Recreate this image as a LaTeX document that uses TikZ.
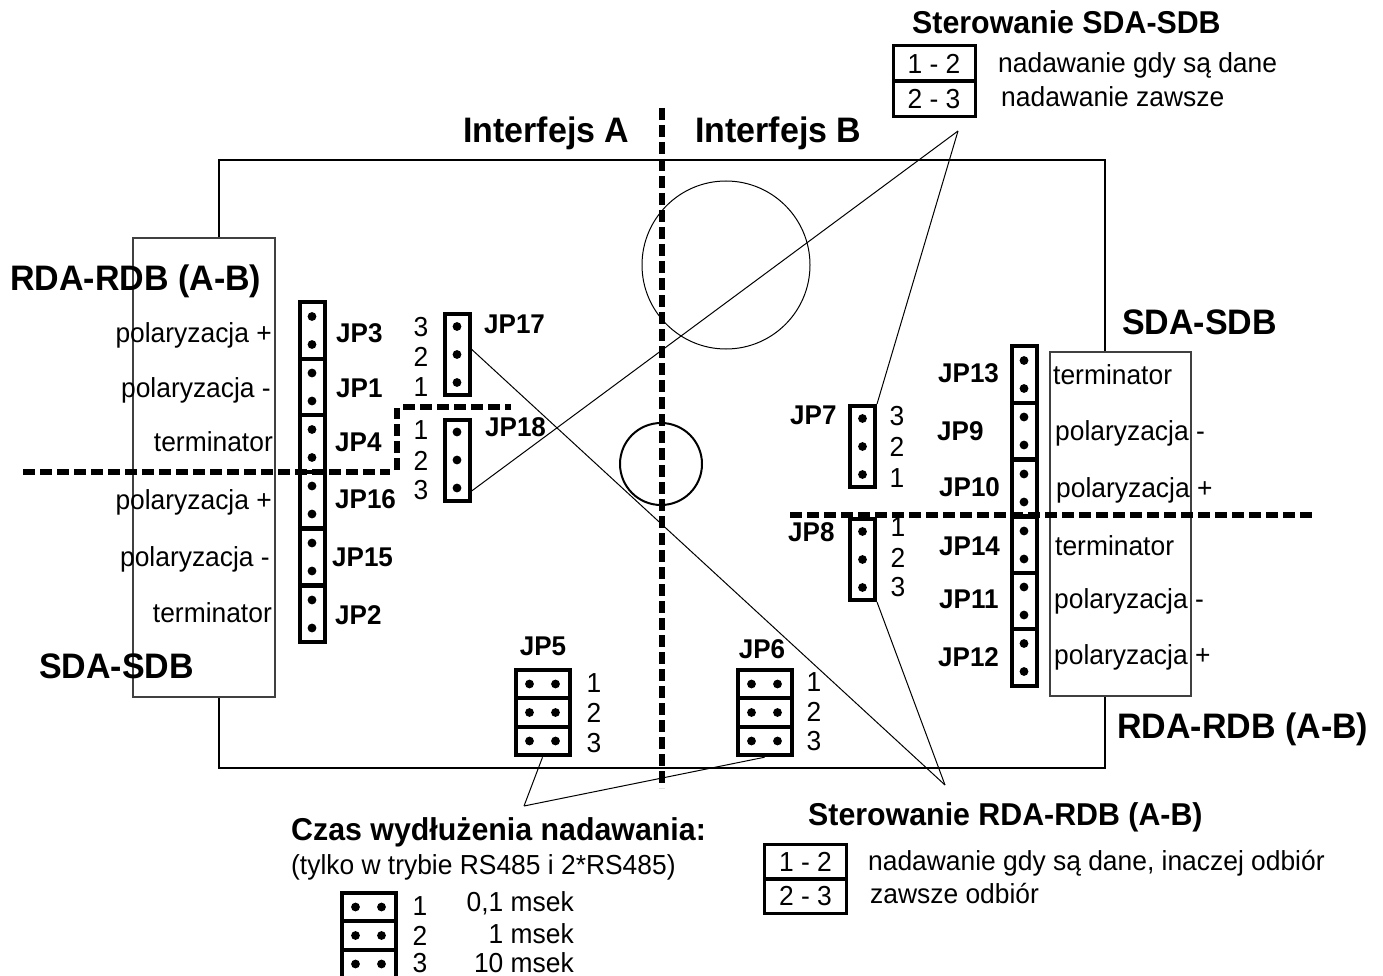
\documentclass[tikz,border=0pt]{standalone}
\usepackage{fontspec}
\setmainfont[FakeStretch=0.96]{Liberation Sans}
\tikzset{
  txt/.style={inner sep=0pt, font=\fontsize{27.5}{27.5}\selectfont},
  jp/.style={inner sep=0pt, font=\fontsize{27.1}{27.1}\selectfont\bfseries},
  head/.style={inner sep=0pt, font=\fontsize{35.4}{35.4}\selectfont\bfseries},
  subhead/.style={inner sep=0pt, font=\fontsize{31.6}{31.6}\selectfont\bfseries},
  cell/.style={draw, fill=white, line width=4pt, inner sep=0pt, minimum width=25pt, minimum height=56.6pt},
  tall/.style={draw, fill=white, line width=4pt, inner sep=0pt, minimum width=25pt, minimum height=81pt},
  wide/.style={draw, fill=white, line width=4pt, inner sep=0pt, minimum width=54pt, minimum height=28.5pt},
  tab/.style={draw, line width=3pt, inner sep=0pt, minimum width=82pt, minimum height=35pt, font=\fontsize{27.5}{27.5}\selectfont},
  conn/.style={draw=black!75, fill=white, line width=1.2pt, inner sep=0pt},
  thin line/.style={line width=1pt},
  divider/.style={line width=5.5pt, dash pattern=on 12pt off 5pt},
}
\begin{document}
\begin{tikzpicture}[x=1pt,y=-1pt]
\useasboundingbox (0,0) rectangle (1383,976);
% board
\node[draw, line width=2pt, inner sep=0pt, minimum width=886pt, minimum height=608pt] (board) at (662,464) {};
\node[draw, circle, line width=1pt, inner sep=0pt, minimum size=168pt] (bigc) at (726,265) {};
\node[draw, circle, line width=2pt, inner sep=0pt, minimum size=82pt] (smallc) at (661,464) {};
% side connectors
\node[conn, minimum width=142pt, minimum height=459pt] (connl) at (204,467.5) {};
\node[conn, minimum width=141pt, minimum height=344pt] (connr) at (1120.5,524) {};
% left column
\node[cell] (jp3) at (312,330.5) {};
\node[cell] (jp1) at (312,387) {};
\node[cell] (jp4) at (312,443.5) {};
\node[cell] (jp16) at (312,500) {};
\node[cell] (jp15) at (312,557) {};
\node[cell] (jp2) at (312,614) {};
% right column
\node[cell] (jp13) at (1024,374.5) {};
\node[cell] (jp9) at (1024,431) {};
\node[cell] (jp10) at (1024,488) {};
\node[cell] (jp14) at (1024,545) {};
\node[cell] (jp11) at (1024,601) {};
\node[cell] (jp12) at (1024,657.5) {};
% three pin jumpers
\node[tall] (jp17) at (457,354.5) {};
\node[tall] (jp18) at (457,460) {};
\node[tall] (jp7) at (862.5,446.5) {};
\node[tall] (jp8) at (862.5,559.5) {};
\node[wide] (jp5a) at (542.5,684) {};
\node[wide] (jp5b) at (542.5,712.5) {};
\node[wide] (jp5c) at (542.5,741) {};
\node[wide] (jp6a) at (764.5,684) {};
\node[wide] (jp6b) at (764.5,712.5) {};
\node[wide] (jp6c) at (764.5,741) {};
\node[wide] (keya) at (368.5,907) {};
\node[wide] (keyb) at (368.5,935.5) {};
\node[wide] (keyc) at (368.5,964) {};
% pins
\foreach \c in {jp3,jp1,jp4,jp16,jp15,jp2,jp13,jp9,jp10,jp14,jp11,jp12} {
  \fill ([yshift=14pt]\c.center) circle (4.4pt);
  \fill ([yshift=-14pt]\c.center) circle (4.4pt);
}
\foreach \c in {jp17,jp18,jp7,jp8} {
  \fill ([yshift=28pt]\c.center) circle (4.4pt);
  \fill (\c.center) circle (4.4pt);
  \fill ([yshift=-28pt]\c.center) circle (4.4pt);
}
\foreach \c in {jp5a,jp5b,jp5c,jp6a,jp6b,jp6c,keya,keyb,keyc} {
  \fill ([xshift=-13pt]\c.center) circle (4.4pt);
  \fill ([xshift=13pt]\c.center) circle (4.4pt);
}
% tables
\node[tab] (sda12) at (934,63.5) {1 - 2};
\node[tab] (sda23) at (934,99) {2 - 3};
\node[tab] (rda12) at (805.5,862) {1 - 2};
\node[tab] (rda23) at (805.5,896) {2 - 3};
% leader lines
\coordinate (apexsda) at (958,131);
\coordinate (apexrda) at (945,785);
\coordinate (apextime) at (524,806);
\draw[thin line] (jp7.north east) -- (apexsda);
\draw[thin line] (jp18.-65) -- (apexsda);
\draw[thin line] (jp17.20) -- (apexrda);
\draw[thin line] (jp8.south east) -- (apexrda);
\draw[thin line] (jp5c.south) -- (apextime);
\draw[thin line] (jp6c.south) -- (apextime);
% dividers
\coordinate (ifa) at (662,108);
\coordinate (ifb) at (662,788);
\coordinate (la) at (23,472);
\coordinate (lb) at (390,472);
\coordinate (lc) at (397,470);
\coordinate (ld) at (397,408);
\coordinate (le) at (403,407);
\coordinate (lf) at (511,407);
\coordinate (ra) at (790,515);
\coordinate (rb) at (1315,515);
\draw[divider] (ifa) -- (ifb);
\draw[divider] (la) -- (lb);
\draw[divider] (lc) -- (ld);
\draw[divider] (le) -- (lf);
\draw[divider] (ra) -- (rb);
% headings
\node[head, anchor=base west] (ifatext) at (463,143) {Interfejs A};
\node[head, anchor=base west] (ifbtext) at (695,143) {Interfejs B};
\node[head, anchor=base west] (rdal) at (10,290) {RDA-RDB (A-B)};
\node[head, anchor=base west] (sdal) at (39,678) {SDA-SDB};
\node[head, anchor=base west] (sdar) at (1122,334) {SDA-SDB};
\node[head, anchor=base west] (rdar) at (1117,738) {RDA-RDB (A-B)};
\node[subhead, anchor=base west] (sterb) at (912,34) {Sterowanie SDA-SDB};
\node[subhead, anchor=base west] (sterc) at (808,825) {Sterowanie RDA-RDB (A-B)};
\node[subhead, anchor=base west] (czas) at (291,840) {Czas wydłużenia nadawania:};
\node[txt, anchor=base west] (tylko) at (291,874) {(tylko w trybie RS485 i 2*RS485)};
\node[txt, anchor=base west] (sda12t) at (998,73) {nadawanie gdy są dane};
\node[txt, anchor=base west] (sda23t) at (1001,107) {nadawanie zawsze};
\node[txt, anchor=base west] (rda12t) at (868,870) {nadawanie gdy są dane, inaczej odbiór};
\node[txt, anchor=base west] (rda23t) at (870,903) {zawsze odbiór};
% left labels
\node[txt, anchor=base east] (ll1) at (272,342) {polaryzacja +};
\node[txt, anchor=base east] (ll2) at (271,397) {polaryzacja -};
\node[txt, anchor=base east] (ll3) at (273,451) {terminator};
\node[txt, anchor=base east] (ll4) at (272,509) {polaryzacja +};
\node[txt, anchor=base east] (ll5) at (270,566) {polaryzacja -};
\node[txt, anchor=base east] (ll6) at (272,622) {terminator};
\node[jp, anchor=base west] (jp3t) at (336,342) {JP3};
\node[jp, anchor=base west] (jp1t) at (336,397) {JP1};
\node[jp, anchor=base west] (jp4t) at (335,451) {JP4};
\node[jp, anchor=base west] (jp16t) at (335,508) {JP16};
\node[jp, anchor=base west] (jp15t) at (332,566) {JP15};
\node[jp, anchor=base west] (jp2t) at (335,624) {JP2};
\node[jp, anchor=base west] (jp17t) at (484,333) {JP17};
\node[jp, anchor=base west] (jp18t) at (485,436) {JP18};
% right labels
\node[txt, anchor=base west] (rl1) at (1053,384) {terminator};
\node[txt, anchor=base west] (rl2) at (1055,440) {polaryzacja -};
\node[txt, anchor=base west] (rl3) at (1056,497) {polaryzacja +};
\node[txt, anchor=base west] (rl4) at (1055,555) {terminator};
\node[txt, anchor=base west] (rl5) at (1054,608) {polaryzacja -};
\node[txt, anchor=base west] (rl6) at (1054,664) {polaryzacja +};
\node[jp, anchor=base west] (jp13t) at (938,382) {JP13};
\node[jp, anchor=base west] (jp9t) at (937,440) {JP9};
\node[jp, anchor=base west] (jp10t) at (939,496) {JP10};
\node[jp, anchor=base west] (jp14t) at (939,555) {JP14};
\node[jp, anchor=base west] (jp11t) at (939,608) {JP11};
\node[jp, anchor=base west] (jp12t) at (938,666) {JP12};
\node[jp, anchor=base west] (jp7t) at (790,424) {JP7};
\node[jp, anchor=base west] (jp8t) at (788,541) {JP8};
\node[jp, anchor=base] (jp5t) at (543,655) {JP5};
\node[jp, anchor=base] (jp6t) at (762,658) {JP6};
% pin numbers
\node[txt, anchor=base] (n173) at (421,336) {3};
\node[txt, anchor=base] (n172) at (421,366) {2};
\node[txt, anchor=base] (n171) at (421,396) {1};
\node[txt, anchor=base] (n181) at (421,439) {1};
\node[txt, anchor=base] (n182) at (421,470) {2};
\node[txt, anchor=base] (n183) at (421,499) {3};
\node[txt, anchor=base] (n73) at (897,425) {3};
\node[txt, anchor=base] (n72) at (897,456) {2};
\node[txt, anchor=base] (n71) at (897,487) {1};
\node[txt, anchor=base] (n81) at (898,536) {1};
\node[txt, anchor=base] (n82) at (898,567) {2};
\node[txt, anchor=base] (n83) at (898,596) {3};
\node[txt, anchor=base] (n51) at (594,692) {1};
\node[txt, anchor=base] (n52) at (594,722) {2};
\node[txt, anchor=base] (n53) at (594,752) {3};
\node[txt, anchor=base] (n61) at (814,691) {1};
\node[txt, anchor=base] (n62) at (814,721) {2};
\node[txt, anchor=base] (n63) at (814,750) {3};
\node[txt, anchor=base] (k1) at (420,915) {1};
\node[txt, anchor=base] (k2) at (420,945) {2};
\node[txt, anchor=base] (k3) at (420,972) {3};
\node[txt, anchor=base east] (t1) at (574,911) {0,1 msek};
\node[txt, anchor=base east] (t2) at (574,943) {1 msek};
\node[txt, anchor=base east] (t3) at (574,972) {10 msek};
\end{tikzpicture}
\end{document}
